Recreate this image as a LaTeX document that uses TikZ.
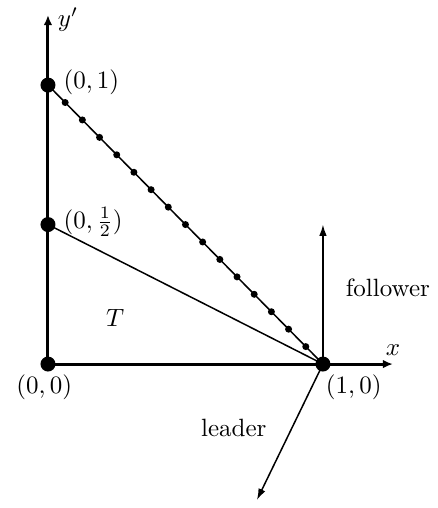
\documentclass[tikz,border=0pt]{standalone}
\usetikzlibrary{arrows.meta}
\begin{document}
\begin{tikzpicture}[x=110pt, y=111.6pt,
	bigdot/.style={circle, fill=black, inner sep=0pt, minimum size=6pt},
	smalldot/.style={circle, fill=black, inner sep=0pt, minimum size=2.8pt},
	axisline/.style={line width=1.2pt, -{Latex[length=4pt,width=3.4pt]}},
	thinline/.style={line width=0.6pt},
	vecline/.style={line width=0.6pt, -{Latex[length=4.5pt,width=3pt]}}]
	
	\useasboundingbox (-0.1745,-0.516) rectangle (1.418,1.305);
	
	% Punkte und Pfeilenden
	\coordinate (O) at (0,0);
	\coordinate (A) at (0,1);
	\coordinate (H) at (0,0.5);
	\coordinate (B) at (1,0);
	\coordinate (xtip) at (1.2545,0);
	\coordinate (ytip) at (0,1.251);
	\coordinate (ftip) at (1,0.5);
	\coordinate (ltip) at (0.76,-0.487);
	
	% Achsen
	\draw[axisline] (O) -- (ytip);
	\draw[axisline] (O) -- (xtip);
	
	% Dünne Linien im Dreieck
	\draw[thinline] (H) -- (B);
	\draw[thinline] (A) -- (B);
	
	% Pfeile follower / leader
	\draw[vecline] (B) -- (ftip);
	\draw[vecline] (B) -- (ltip);
	
	% Kleine Punkte auf der Diagonale
	\foreach \i in {1,...,15}
	\node[smalldot] (d\i) at (\i/16,1-\i/16) {};
	
	% Große Punkte
	\node[bigdot] (pO) at (O) {};
	\node[bigdot] (pA) at (A) {};
	\node[bigdot] (pH) at (H) {};
	\node[bigdot] (pB) at (B) {};
	
	% Beschriftungen
	\node[anchor=west, inner sep=1pt] (ly) at (0.025,1.235) {$y'$};
	\node[anchor=south] (lx) at (xtip) {$x$};
	\node[anchor=west, inner sep=0pt] (lA) at (0.055,1.011) {$(0,1)$};
	\node[anchor=west, inner sep=0pt] (lH) at (0.055,0.509) {$(0,\frac{1}{2})$};
	\node[anchor=north, inner sep=1pt, xshift=-1.5pt] (lO) at (pO.south) {$(0,0)$};
	\node[anchor=north west, inner sep=1pt] (lB) at (pB.south) {$(1,0)$};
	\node (lT) at (0.244,0.165) {$T$};
	\node (lf) at (1.236,0.272) {follower};
	\node (ll) at (0.676,-0.229) {leader};
	
\end{tikzpicture}
\end{document}
